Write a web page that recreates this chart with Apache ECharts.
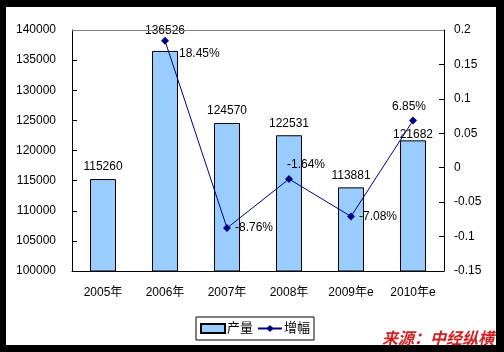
<!DOCTYPE html>
<html><head><meta charset="utf-8">
<script src="https://cdn.jsdelivr.net/npm/echarts@6/dist/echarts.min.js"></script>
<style>html,body{margin:0;padding:0;background:#000;}#c{width:504px;height:352px;}</style>
</head><body><div id="c"></div>
<script>
const categories = ['2005年','2006年','2007年','2008年','2009年e','2010年e'];
const output = [115260, 136526, 124570, 122531, 113881, 121682];
const growth = [null, 0.1845, -0.0876, -0.0164, -0.0708, 0.0685];
const growthLabels = ['', '18.45%', '-8.76%', '-1.64%', '-7.08%', '6.85%'];
const leftTicks = [100000, 140000, 5000];
const rightTicks = [-0.15, 0.2, 0.05];

const FONT = "'Liberation Sans','Noto Sans CJK SC',sans-serif";
const chart = echarts.init(document.getElementById('c'));
const growthPos = ['right','right','right','top','right','top'];
const growthOff = [[0,0],[6,13],[0,0],[17,0],[0,0],[-4,0]];
const barOff = [[0,0],[0,-8],[0,0],[0,0],[0,0],[0,6]];
chart.setOption({
  backgroundColor: '#000',
  animation: false,
  graphic: [
    {type:'rect', z:-10, shape:{x:6,y:7,width:490,height:338}, style:{fill:'#fff'}},
    {type:'line', z:5, shape:{x1:72,y1:30.5,x2:444,y2:30.5}, style:{stroke:'#808080',lineWidth:1}},
    {type:'text', z:10, left:382, top:330, style:{text:'来源：中经纵横', fill:'#d02020', font:"italic bold 16px 'Noto Sans CJK SC'", textShadowColor:'#600', textShadowBlur:0, textShadowOffsetX:1, textShadowOffsetY:1}}
  ],
  grid: {left:72, right:60, top:30, bottom:81},
  legend: {
    left:196, top:317, itemGap:4, itemWidth:24, itemHeight:9,
    borderColor:'#000', borderWidth:1, padding:[5,4,5,4],
    textStyle:{fontFamily:FONT, fontSize:13, color:'#000', padding:[0,0,0,-3]},
    data:[{name:'产量', icon:'rect'}, {name:'增幅'}]
  },
  xAxis: {
    type:'category', data:categories,
    axisLine:{onZero:false, lineStyle:{color:'#000'}},
    axisTick:{inside:true, length:5, lineStyle:{color:'#000'}},
    axisLabel:{fontFamily:FONT, fontSize:12, color:'#000', margin:16}
  },
  yAxis: [
    {type:'value', min:leftTicks[0], max:leftTicks[1], interval:leftTicks[2],
     axisLine:{show:true, lineStyle:{color:'#000'}},
     axisTick:{show:true, inside:true, length:5, lineStyle:{color:'#000'}},
     splitLine:{show:false},
     axisLabel:{fontFamily:FONT, fontSize:12, color:'#000', margin:16, formatter: v => String(v)}},
    {type:'value', min:rightTicks[0], max:rightTicks[1], interval:rightTicks[2],
     axisLine:{show:true, lineStyle:{color:'#000'}},
     axisTick:{show:true, inside:true, length:5, lineStyle:{color:'#000'}},
     splitLine:{show:false},
     axisLabel:{fontFamily:FONT, fontSize:12, color:'#000', margin:10,
       formatter: v => String(Math.round(v*100)/100)}}
  ],
  series: [
    {name:'产量', type:'bar', yAxisIndex:0, barWidth:26,
     data: output.map((v,i)=>({value:v, label:{offset:barOff[i]}})),
     itemStyle:{color:'#99CCFF', borderColor:'#000', borderWidth:1},
     label:{show:true, position:'top', distance:6, fontFamily:FONT, fontSize:12, color:'#000'}},
    {name:'增幅', type:'line', yAxisIndex:1, connectNulls:false,
     data: growth.map((v,i)=>({value:v, label:{position:growthPos[i], offset:growthOff[i]}})),
     symbol:'diamond', symbolSize:8,
     lineStyle:{color:'#000080', width:1}, itemStyle:{color:'#000080'},
     label:{show:true, fontFamily:FONT, fontSize:12, color:'#000', distance:4,
       formatter: p => growthLabels[p.dataIndex]}, z:3}
  ]
});
</script></body></html>
